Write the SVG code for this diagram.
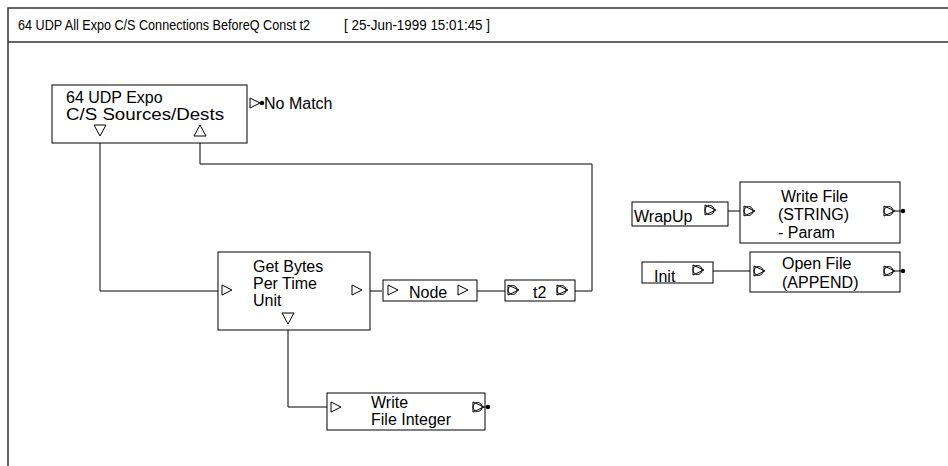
<svg xmlns="http://www.w3.org/2000/svg" width="948" height="466" viewBox="0 0 948 466">
<defs>
<style>
text{font-family:"Liberation Sans",Arial,sans-serif;font-size:16px;fill:#000}
.title{font-size:14.5px}
.box{fill:#fff;stroke:#000;stroke-width:1}
.frame{fill:none;stroke:#333;stroke-width:1.5}
.wire{fill:none;stroke:#000;stroke-width:1}
.port{fill:none;stroke:#000;stroke-width:1}
</style>
<g id="tri-r"><path class="port" d="M0,-5 L10,0 L0,5 Z"/></g>
<g id="tri-d"><path class="port" d="M-6,0 L6,0 L0,11 Z"/></g>
<g id="tri-u"><path class="port" d="M-6,11 L6,11 L0,0 Z"/></g>
<g id="ctri"><path class="port" d="M0,-5 L11,0 L0,5 Z"/><circle class="port" cx="4.5" cy="0" r="4.5"/></g>
</defs>
<rect width="948" height="466" fill="#fff"/>
<g id="frame">
<path class="frame" d="M8,466 V8 H948"/>
<path class="frame" d="M8,42 H948"/>
<text class="title" x="18" y="30" textLength="292" lengthAdjust="spacingAndGlyphs">64 UDP All Expo C/S Connections BeforeQ Const t2</text>
<text class="title" x="344" y="30" textLength="146" lengthAdjust="spacingAndGlyphs">[ 25-Jun-1999 15:01:45 ]</text>
</g>
<g id="connectors">
<path class="wire" d="M100,136 V291 H218"/>
<path class="wire" d="M200,136 V164 H592 V291 H575"/>
<path class="wire" d="M370,291 H382"/>
<path class="wire" d="M477,291 H505"/>
<path class="wire" d="M288,330 V407 H327"/>
<path class="wire" d="M728,211 H740"/>
<path class="wire" d="M713,271 H750"/>
</g>
<g id="n-sources">
<rect class="box" x="52" y="85" width="195" height="58"/>
<text x="66" y="103">64 UDP Expo</text>
<text x="66" y="120" textLength="158" lengthAdjust="spacingAndGlyphs">C/S Sources/Dests</text>
<use href="#tri-d" x="100" y="125"/>
<use href="#tri-u" x="200" y="125"/>
<use href="#tri-r" x="250" y="103"/>
<path class="wire" d="M260,103 H262"/>
<circle cx="262" cy="103" r="2.2"/>
<text x="264" y="109">No Match</text>
</g>
<g id="n-getbytes">
<rect class="box" x="218" y="252" width="152" height="78"/>
<text x="253" y="272">Get Bytes</text>
<text x="253" y="289">Per Time</text>
<text x="253" y="306">Unit</text>
<use href="#tri-r" x="222" y="290"/>
<use href="#tri-r" x="352" y="290"/>
<use href="#tri-d" x="288" y="313"/>
</g>
<g id="n-node">
<rect class="box" x="383" y="280" width="94" height="21"/>
<use href="#tri-r" x="388" y="290"/>
<text x="409" y="298">Node</text>
<use href="#tri-r" x="458" y="290"/>
</g>
<g id="n-t2">
<rect class="box" x="505" y="280" width="70" height="21"/>
<use href="#ctri" x="508" y="290"/>
<text x="533" y="298">t2</text>
<use href="#ctri" x="557" y="290"/>
</g>
<g id="n-writeint">
<rect class="box" x="327" y="393" width="158" height="37"/>
<use href="#tri-r" x="331" y="407"/>
<text x="371" y="408">Write</text>
<text x="371" y="425">File Integer</text>
<use href="#ctri" x="473" y="407"/>
<path class="wire" d="M484,407 H487"/>
<circle cx="488" cy="407" r="2.2"/>
</g>
<g id="n-wrapup">
<rect class="box" x="632" y="202" width="96" height="24"/>
<text x="634" y="222">WrapUp</text>
<use href="#ctri" x="705" y="210"/>
</g>
<g id="n-writefile">
<rect class="box" x="740" y="182" width="160" height="61"/>
<use href="#ctri" x="744" y="211"/>
<text x="781" y="202">Write File</text>
<text x="778" y="220">(STRING)</text>
<text x="778" y="238">- Param</text>
<use href="#ctri" x="884" y="211"/>
<path class="wire" d="M895,211 H902"/>
<circle cx="903" cy="211" r="2.2"/>
</g>
<g id="n-init">
<rect class="box" x="642" y="262" width="71" height="21"/>
<text x="654" y="282">Init</text>
<use href="#ctri" x="693" y="270"/>
</g>
<g id="n-openfile">
<rect class="box" x="750" y="252" width="150" height="40"/>
<use href="#ctri" x="754" y="271"/>
<text x="782" y="269">Open File</text>
<text x="782" y="288">(APPEND)</text>
<use href="#ctri" x="884" y="271"/>
<path class="wire" d="M895,271 H902"/>
<circle cx="903" cy="271" r="2.2"/>
</g>
</svg>
